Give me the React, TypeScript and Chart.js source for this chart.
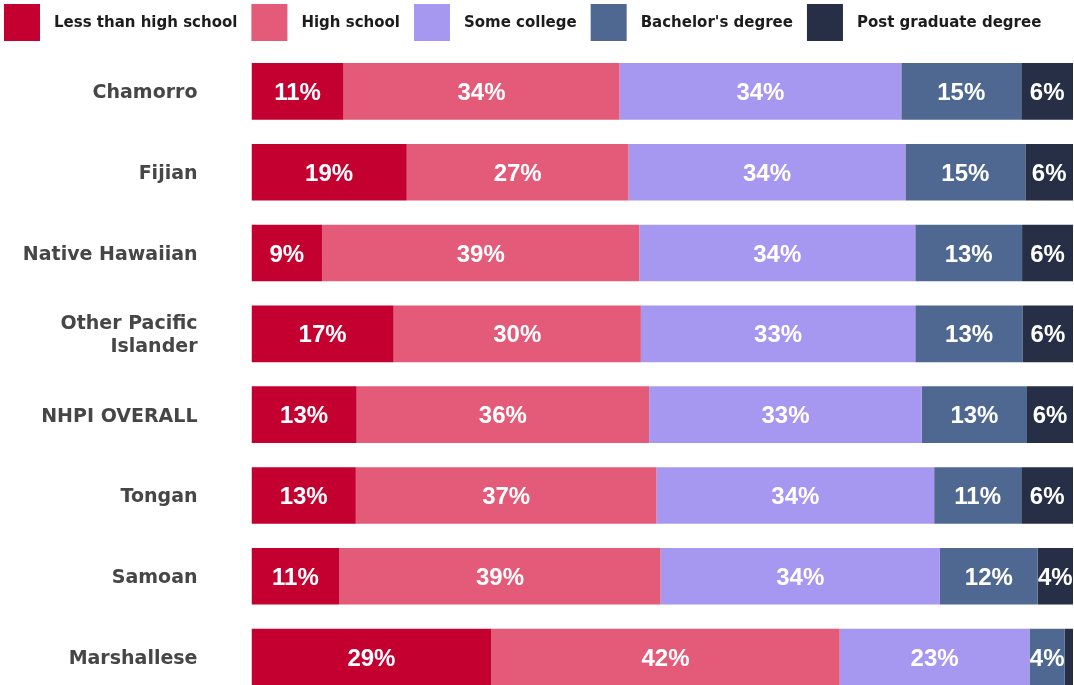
import React, { useEffect, useRef } from "react";
import { Chart, registerables } from "chart.js";

Chart.register(...registerables);

const categories: (string | string[])[] = [
  "Chamorro",
  "Fijian",
  "Native Hawaiian",
  ["Other Pacific", "Islander"],
  "NHPI OVERALL",
  "Tongan",
  "Samoan",
  "Marshallese",
];

const seriesNames = [
  "Less than high school",
  "High school",
  "Some college",
  "Bachelor's degree",
  "Post graduate degree",
];

const seriesColors = ["#C40030", "#E35B79", "#A698F0", "#4F6891", "#262F45"];

const lessThanHighSchool = [11.2, 18.9, 8.6, 17.3, 12.8, 12.7, 10.7, 29.2];
const highSchool = [33.6, 27.0, 38.6, 30.1, 35.6, 36.6, 39.1, 42.4];
const someCollege = [34.3, 33.7, 33.6, 33.4, 33.2, 33.8, 34.0, 23.1];
const bachelors = [14.6, 14.6, 13.0, 13.1, 12.8, 10.6, 11.9, 4.3];
const postGraduate = [6.3, 5.8, 6.2, 6.1, 5.6, 6.3, 4.3, 1.0];

const seriesValues = [lessThanHighSchool, highSchool, someCollege, bachelors, postGraduate];

const legendPlugin = {
  id: "customLegend",
  afterDraw(chart: any) {
    const ctx = chart.ctx;
    ctx.save();
    ctx.font = 'bold 15px "DejaVu Sans"';
    ctx.textBaseline = "middle";
    ctx.textAlign = "left";
    let x = 4;
    chart.data.datasets.forEach((ds: any) => {
      ctx.fillStyle = ds.backgroundColor;
      ctx.fillRect(x, 4, 36, 37);
      x += 36 + 14;
      ctx.fillStyle = "#1c1c1c";
      ctx.fillText(ds.label, x, 23);
      x += ctx.measureText(ds.label).width + 14;
    });
    ctx.restore();
  },
};

const valueLabelPlugin = {
  id: "valueLabels",
  afterDatasetsDraw(chart: any) {
    const ctx = chart.ctx;
    ctx.save();
    ctx.font = 'bold 24px "Liberation Sans", Arial, sans-serif';
    ctx.fillStyle = "#ffffff";
    ctx.textAlign = "center";
    ctx.textBaseline = "middle";
    chart.data.datasets.forEach((ds: any, i: number) => {
      const meta = chart.getDatasetMeta(i);
      meta.data.forEach((bar: any, j: number) => {
        const v = ds.data[j];
        if (v < 2) return;
        const p = bar.getProps(["x", "base", "y"], true);
        ctx.fillText(Math.round(v) + "%", (p.x + p.base) / 2, p.y + 2);
      });
    });
    ctx.restore();
  },
};

export default function App() {
  const canvasRef = useRef<HTMLCanvasElement | null>(null);

  useEffect(() => {
    if (!canvasRef.current) return;
    const chart = new Chart(canvasRef.current, {
      type: "bar",
      data: {
        labels: categories,
        datasets: seriesNames.map((name, i) => ({
          label: name,
          data: seriesValues[i],
          backgroundColor: seriesColors[i],
          borderWidth: 0,
          barPercentage: 0.7,
          categoryPercentage: 1,
        })),
      },
      options: {
        indexAxis: "y",
        responsive: false,
        animation: false,
        layout: { padding: { top: 51, bottom: 0.5, left: 0, right: 1 } },
        plugins: {
          legend: { display: false },
          tooltip: { enabled: false },
        },
        scales: {
          x: {
            stacked: true,
            min: 0,
            max: 100,
            display: false,
          },
          y: {
            stacked: true,
            grid: { display: false, drawTicks: false },
            border: { display: false },
            ticks: {
              padding: 54,
              labelOffset: 2,
              color: "#464646",
              font: { family: '"DejaVu Sans"', size: 19, weight: "bold", lineHeight: 1.2 },
            },
            afterFit(scale: any) {
              scale.width = 251.5;
              scale.paddingTop = 0;
              scale.paddingBottom = 0;
            },
          },
        },
      },
      plugins: [legendPlugin, valueLabelPlugin],
    } as any);
    return () => chart.destroy();
  }, []);

  return (
    <div
      style={{
        position: "fixed",
        left: 0,
        top: 0,
        width: 1074,
        height: 685,
        overflow: "hidden",
        background: "#ffffff",
      }}
    >
      <canvas ref={canvasRef} width={1074} height={698} style={{ display: "block", width: 1074, height: 698 }} />
    </div>
  );
}
